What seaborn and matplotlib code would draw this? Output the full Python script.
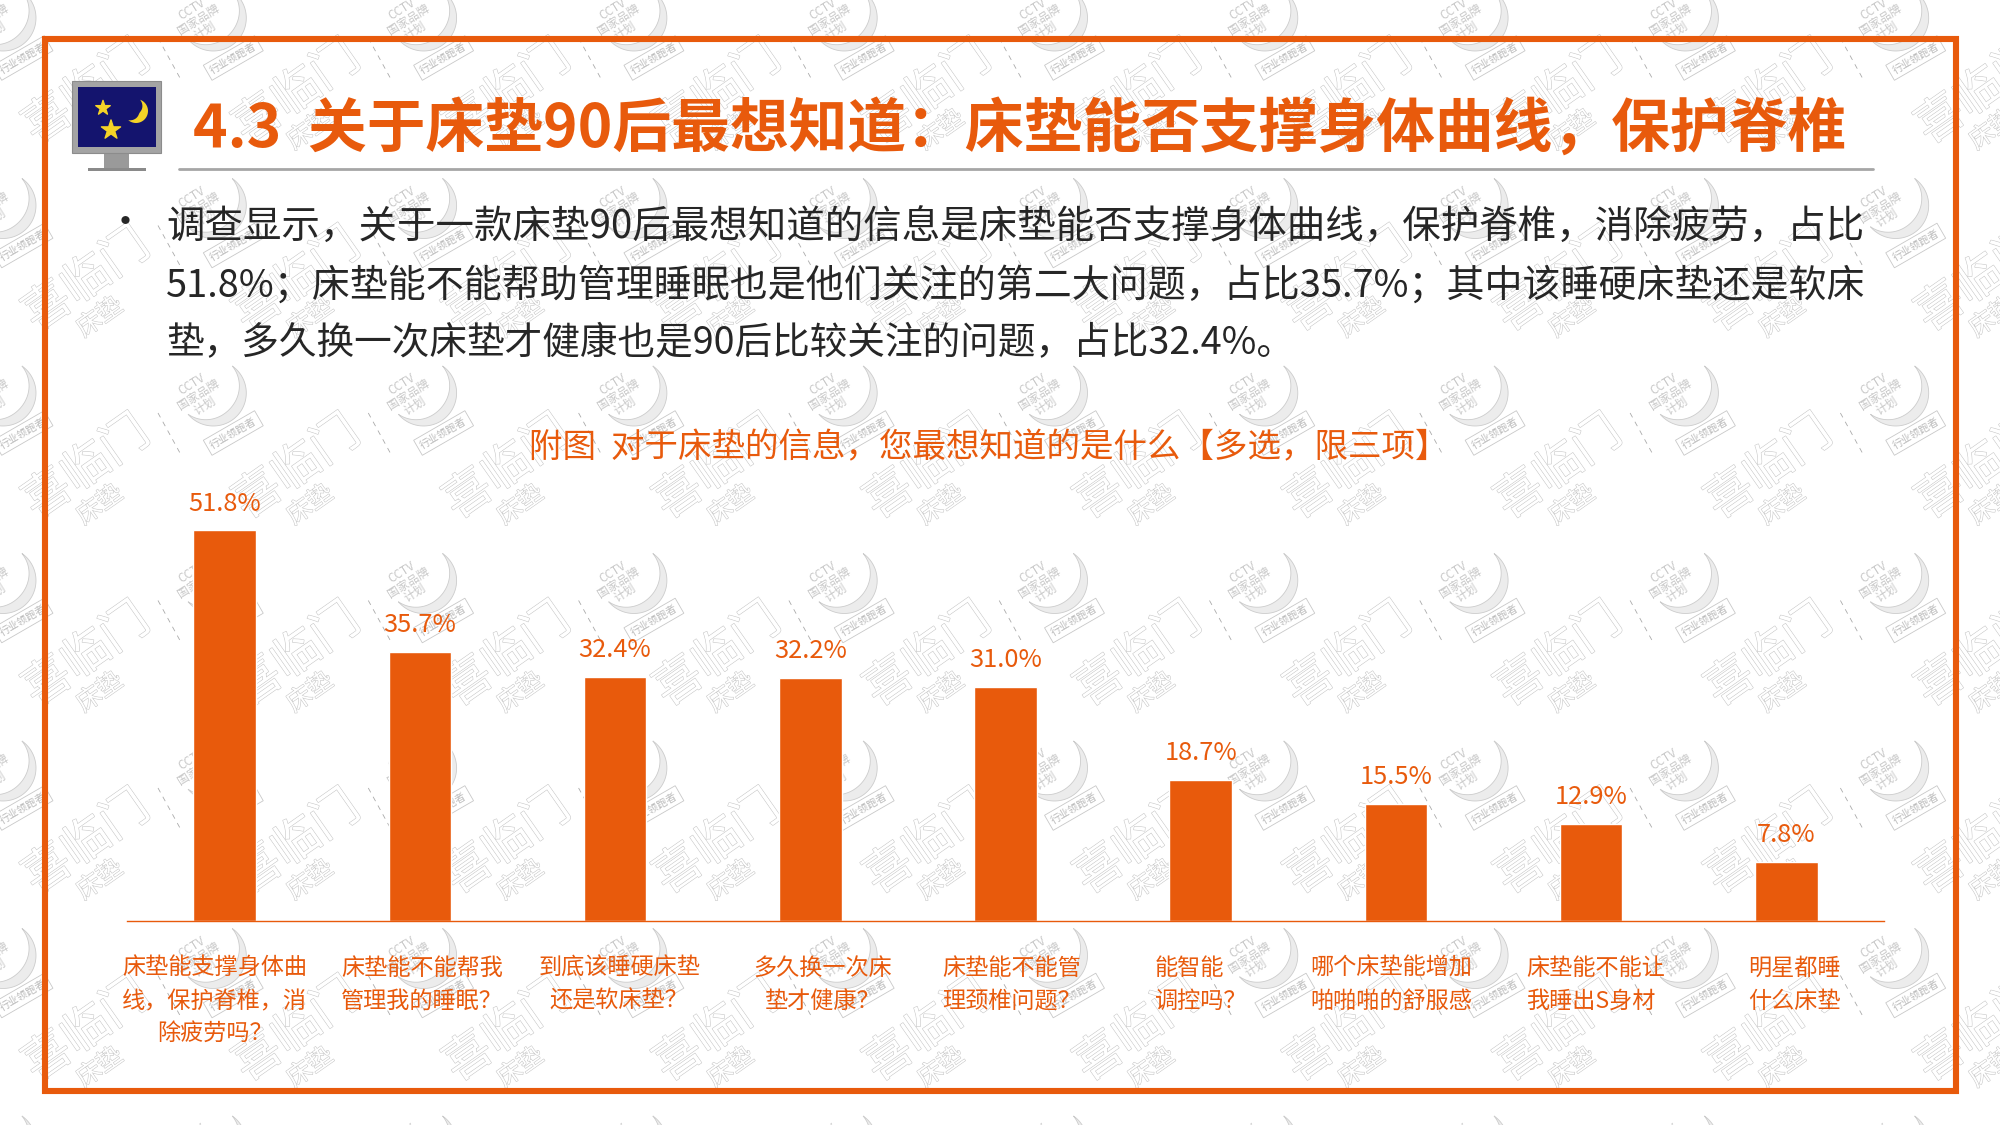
import numpy as np
import pandas as pd
import seaborn as sns
import matplotlib.pyplot as plt
import matplotlib.patheffects as pe
from matplotlib.patches import Rectangle, Polygon
from matplotlib.transforms import ScaledTranslation

# chart data
categories = ['床垫能支撑身体曲\n线，保护脊椎，消\n除疲劳吗？', '床垫能不能帮我\n管理我的睡眠？', '到底该睡硬床垫\n还是软床垫？',
              '多久换一次床\n垫才健康？', '床垫能不能管\n理颈椎问题？', '能智能\n调控吗？',
              '哪个床垫能增加\n啪啪啪的舒服感', '床垫能不能让\n我睡出S身材', '明星都睡\n什么床垫']
values = [51.8, 35.7, 32.4, 32.2, 31.0, 18.7, 15.5, 12.9, 7.8]
value_labels = ['51.8%', '35.7%', '32.4%', '32.2%', '31.0%', '18.7%', '15.5%', '12.9%', '7.8%']
label_shift = [-10, 2, 4, 12, 6, 0, -5, 4, 8]

title = '4.3  关于床垫90后最想知道：床垫能否支撑身体曲线，保护脊椎'
chart_title = '附图  对于床垫的信息，您最想知道的是什么【多选，限三项】'
body_lines = ['调查显示，关于一款床垫90后最想知道的信息是床垫能否支撑身体曲线，保护脊椎，消除疲劳，占比',
              '51.8%；床垫能不能帮助管理睡眠也是他们关注的第二大问题，占比35.7%；其中该睡硬床垫还是软床',
              '垫，多久换一次床垫才健康也是90后比较关注的问题，占比32.4%。']
body_sizes = [27.7, 27.35, 27.1]
body_y = [228, 286, 344]

orange = '#E85A0C'

sns.set_theme(style='white')
plt.rcParams['font.family'] = ['Noto Sans CJK SC', 'DejaVu Sans']

fig = plt.figure(figsize=(20, 11.25), dpi=100, facecolor='white')

# background layer works in image pixels
bg = fig.add_axes([0, 0, 1, 1])
bg.set_xlim(0, 2000)
bg.set_ylim(1125, 0)
bg.axis('off')

# repeated watermark
outline = [pe.Stroke(linewidth=0.8, foreground='#c8c8c8'), pe.Normal()]
theta = np.radians(np.linspace(-55, 140, 50))
bulge = 10 * np.sin(np.linspace(0, np.pi, 50))
for cx in np.arange(3, 2100, 210.3):
    for cy in np.arange(18, 1200, 187.5):
        moon_x = np.r_[cx + 33 * np.cos(theta), cx + ((33 - bulge) * np.cos(theta))[::-1]]
        moon_y = np.r_[cy + 33 * np.sin(theta), cy + ((33 - bulge) * np.sin(theta))[::-1]]
        bg.add_patch(Polygon(np.c_[moon_x, moon_y], facecolor='#ececec', edgecolor='#cccccc', lw=0.6, zorder=1))
        bg.text(cx - 15, cy + 2, 'CCTV\n国家品牌\n计划', fontsize=8.5, color='#c8c8c8', ha='center', va='center',
                rotation=32, rotation_mode='anchor', linespacing=0.95, zorder=1)
        bg.text(cx + 20, cy + 40, '行业领跑者', fontsize=7.5, color='#bbbbbb', ha='center', va='center', rotation=30,
                rotation_mode='anchor', zorder=1,
                bbox=dict(boxstyle='square,pad=0.35', fc='white', ec='#c8c8c8', lw=0.6))
        bg.text(cx + 84, cy + 75, '喜临门', fontsize=34, color='white', ha='center', va='center', rotation=35,
                rotation_mode='anchor', path_effects=outline, zorder=1)
        bg.text(cx + 97, cy + 112, '床垫', fontsize=18, color='white', ha='center', va='center', rotation=35,
                rotation_mode='anchor', path_effects=outline, zorder=1)
        bg.plot([cx + 155, cx + 177], [cy + 20, cy + 60], color='#aaaaaa', lw=0.6, ls=(0, (6, 6)), zorder=1)

# frame and title rule
bg.add_patch(Rectangle((45, 39), 1910.5, 1052, fill=False, ec=orange, lw=4.4, zorder=3))
bg.plot([179, 1873], [169, 169], color='#a6a6a6', lw=2, zorder=3)

# monitor icon
bg.add_patch(Rectangle((104, 152), 25, 17, fc='#9a9a9a', ec='none', zorder=3))
bg.add_patch(Rectangle((88, 168), 58, 3, fc='#8a8a8a', ec='none', zorder=3))
bg.add_patch(Rectangle((72, 81), 89, 72, fc='#a4a4a4', ec='#8c8c8c', lw=0.8, zorder=3))
bg.add_patch(Rectangle((78, 87), 78, 60, fc='#14146e', ec='none', zorder=3))
bg.scatter([103, 111], [108, 130], marker='*', s=[120, 210], color='#f5d327', zorder=4)
moon = np.radians(np.linspace(-70, 130, 40))
moon_bulge = 8 * np.sin(np.linspace(0, np.pi, 40))
bg.add_patch(Polygon(np.c_[np.r_[136 + 12 * np.cos(moon), (136 + (12 - moon_bulge) * np.cos(moon))[::-1]],
                           np.r_[111 + 12 * np.sin(moon), (111 + (12 - moon_bulge) * np.sin(moon))[::-1]]],
                     fc='#f5d327', ec='none', zorder=4))

# title and body text
bg.text(193, 130, title, fontsize=42.3, fontweight='bold', color=orange, ha='left', va='center', zorder=5)
bg.text(125, 224, '•', fontsize=28, color='#262626', ha='center', va='center', zorder=5)
for text_line, size, y in zip(body_lines, body_sizes, body_y):
    bg.text(166, y, text_line, fontsize=size, color='#262626', ha='left', va='center', zorder=5)
bg.text(989, 448, chart_title, fontsize=24.1, color=orange, ha='center', va='center', zorder=5)

# bar chart
df = pd.DataFrame({'item': categories, 'share': values})
ax = fig.add_axes([127 / 2000, (1125 - 921) / 1125, 1757 / 2000, 441 / 1125])
ax.patch.set_alpha(0)
sns.barplot(data=df, x='item', y='share', color=orange, saturation=1, width=0.32, ax=ax)
ax.set_xlim(-0.5, 8.5)
ax.set_ylim(0, 441 / 7.54)
ax.set_xlabel('')
ax.set_ylabel('')
ax.set_yticks([])
sns.despine(ax=ax, left=True)
ax.spines['bottom'].set_color(orange)
ax.spines['bottom'].set_linewidth(1)
ax.tick_params(axis='x', length=0, pad=26, labelsize=16.7, labelcolor=orange)
for lab, dx in zip(ax.get_xticklabels(), label_shift):
    lab.set_linespacing(1.55)
    lab.set_va('top')
    lab.set_transform(lab.get_transform() + ScaledTranslation(dx / 100, 0, fig.dpi_scale_trans))
# these two labels are left aligned in the original
ax.get_xticklabels()[5].set_multialignment('left')
ax.get_xticklabels()[7].set_multialignment('left')
ax.bar_label(ax.containers[0], labels=value_labels, fontsize=18.3, color=orange, padding=10)

fig.savefig('out.png', dpi=100)
